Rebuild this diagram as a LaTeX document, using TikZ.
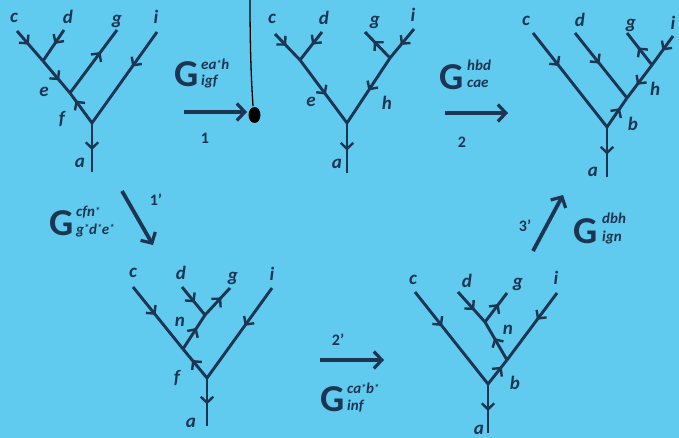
\documentclass[tikz,border=0pt]{standalone}
\usepackage{fontspec}
\setmainfont{Carlito}
\usetikzlibrary{arrows.meta,decorations.markings}
\definecolor{bg}{RGB}{96,203,238}
\definecolor{ink}{RGB}{28,53,82}
\newcommand{\st}{\raisebox{2pt}{\fontsize{10}{10}\selectfont *}}
\tikzset{
  edge/.style={draw=ink,line width=2.9pt},
  marr/.style={postaction={decorate,decoration={markings,mark=at position #1 with {\arrow{Straight Barb[length=6pt,width=12.5pt,line width=2.4pt]}}}}},
  marr/.default=0.5,
  lbl/.style={text=ink,font=\fontsize{19}{19}\selectfont\bfseries\itshape,inner sep=0pt},
  gsym/.style={text=ink,font=\fontsize{38}{38}\selectfont\bfseries,inner sep=0pt,anchor=base west},
  gscr/.style={text=ink,font=\fontsize{15}{15}\selectfont\bfseries\itshape,inner sep=0pt,anchor=base west},
  num/.style={text=ink,font=\fontsize{16}{16}\selectfont\bfseries,inner sep=0pt},
  trans/.style={draw=ink,line width=3.8pt,-{Straight Barb[length=8pt,width=17pt,line width=3.2pt]}}
}
\begin{document}
\begin{tikzpicture}[x=1pt,y=-1pt]
\fill[bg] (0,0) rectangle (679,438);
\useasboundingbox (0,0) rectangle (679,438);

% microphone cable (photo artefact)
\coordinate (mtop) at (250,0);
\coordinate (mbot) at (253,106);
\draw[black,line width=1.3pt] (mtop) .. controls (250,60) and (252,90) .. (mbot);
\fill[black] (254.5,115) ellipse [x radius=6pt,y radius=8pt];

% ---------- Tree 1 ----------
\coordinate (C1) at (17,31); \coordinate (D1) at (64,30);
\coordinate (J1) at (43,61); \coordinate (K1) at (70,93);
\coordinate (G1) at (117,30); \coordinate (I1) at (157,32);
\coordinate (R1) at (92,123); \coordinate (A1) at (92,172);
\draw[edge,marr=0.45] (C1) -- (J1);
\draw[edge,marr=0.45] (D1) -- (J1);
\draw[edge,marr=0.6] (J1) -- (K1);
\draw[edge,marr=0.65] (K1) -- (G1);
\draw[edge,marr=0.38] (I1) -- (R1);
\draw[edge,marr=0.75] (R1) -- (K1);
\draw[edge,marr=0.55] (R1) -- (A1);
\node[lbl] (l1c) at (14,18) {c};
\node[lbl] (l1d) at (68,17) {d};
\node[lbl] (l1g) at (117,21) {g};
\node[lbl] (l1i) at (156,17) {i};
\node[lbl] (l1e) at (44,92) {e};
\node[lbl] (l1f) at (62,119) {f};
\node[lbl] (l1a) at (80,163) {a};

% ---------- Tree 2 ----------
\coordinate (C2) at (275,34); \coordinate (D2) at (322,32);
\coordinate (J2) at (300,60); \coordinate (R2) at (347,123);
\coordinate (A2) at (347,173); \coordinate (G2) at (365,32);
\coordinate (I2) at (414,29); \coordinate (K2) at (390,58);
\draw[edge,marr=0.45] (C2) -- (J2);
\draw[edge,marr=0.45] (D2) -- (J2);
\draw[edge,marr=0.55] (J2) -- (R2);
\draw[edge,marr=0.65] (K2) -- (G2);
\draw[edge,marr=0.55] (I2) -- (K2);
\draw[edge,marr=0.5] (K2) -- (R2);
\draw[edge,marr=0.55] (R2) -- (A2);
\node[lbl] (l2c) at (272,19) {c};
\node[lbl] (l2d) at (324,18) {d};
\node[lbl] (l2g) at (375,22) {g};
\node[lbl] (l2i) at (413,15) {i};
\node[lbl] (l2e) at (311,102) {e};
\node[lbl] (l2h) at (387,103) {h};
\node[lbl] (l2a) at (337,164) {a};

% ---------- Tree 3 ----------
\coordinate (C3) at (533,33); \coordinate (D3) at (575,33);
\coordinate (G3) at (627,33); \coordinate (I3) at (673,36);
\coordinate (K3) at (652,65); \coordinate (J3) at (627,98);
\coordinate (R3) at (607,127); \coordinate (A3) at (607,177);
\draw[edge,marr=0.35] (C3) -- (R3);
\draw[edge,marr=0.47] (D3) -- (J3);
\draw[edge,marr=0.55] (K3) -- (G3);
\draw[edge,marr=0.5] (I3) -- (K3);
\draw[edge,marr=0.6] (K3) -- (J3);
\draw[edge,marr=0.65] (R3) -- (J3);
\draw[edge,marr=0.55] (R3) -- (A3);
\node[lbl] (l3c) at (526,21) {c};
\node[lbl] (l3d) at (580,20) {d};
\node[lbl] (l3g) at (631,25) {g};
\node[lbl] (l3i) at (673,23) {i};
\node[lbl] (l3h) at (655,89) {h};
\node[lbl] (l3b) at (633,124) {b};
\node[lbl] (l3a) at (593,172) {a};

% ---------- Tree 4 ----------
\coordinate (C4) at (133,287); \coordinate (D4) at (182,287);
\coordinate (G4) at (230,288); \coordinate (I4) at (272,288);
\coordinate (P4) at (205,315); \coordinate (N4) at (183,349);
\coordinate (R4) at (207,378); \coordinate (A4) at (207,426);
\draw[edge,marr=0.45] (C4) -- (N4);
\draw[edge,marr=0.62] (R4) -- (N4);
\draw[edge,marr=0.62] (N4) -- (P4);
\draw[edge,marr=0.55] (D4) -- (P4);
\draw[edge,marr=0.65] (P4) -- (G4);
\draw[edge,marr=0.42] (I4) -- (R4);
\draw[edge,marr=0.55] (R4) -- (A4);
\node[lbl] (l4c) at (133,273) {c};
\node[lbl] (l4d) at (181,273) {d};
\node[lbl] (l4g) at (233,278) {g};
\node[lbl] (l4i) at (272,274) {i};
\node[lbl] (l4n) at (180,322) {n};
\node[lbl] (l4f) at (177,378) {f};
\node[lbl] (l4a) at (191,423) {a};

% ---------- Tree 5 ----------
\coordinate (C5) at (415,292); \coordinate (D5) at (458,292);
\coordinate (G5) at (507,293); \coordinate (I5) at (557,293);
\coordinate (P5) at (485,322); \coordinate (N5) at (507,360);
\coordinate (R5) at (488,384); \coordinate (A5) at (488,433);
\draw[edge,marr=0.37] (C5) -- (R5);
\draw[edge,marr=0.6] (D5) -- (P5);
\draw[edge,marr=0.62] (P5) -- (G5);
\draw[edge,marr=0.58] (N5) -- (P5);
\draw[edge,marr=0.4] (I5) -- (N5);
\draw[edge,marr=0.72] (R5) -- (N5);
\draw[edge,marr=0.55] (R5) -- (A5);
\node[lbl] (l5c) at (413,280) {c};
\node[lbl] (l5d) at (467,281) {d};
\node[lbl] (l5g) at (518,284) {g};
\node[lbl] (l5i) at (556,278) {i};
\node[lbl] (l5n) at (508,330) {n};
\node[lbl] (l5b) at (515,383) {b};
\node[lbl] (l5a) at (479,430) {a};

% ---------- Transition 1 ----------
\coordinate (T1s) at (184,112); \coordinate (T1e) at (247,112);
\draw[trans] (T1s) -- (T1e);
\node[num] (n1) at (205,138) {1};
\node[gsym] (g1) at (174,87) {G};
\node[gscr] (g1u) at (201,70) {ea\st h};
\node[gscr] (g1d) at (201,86) {igf};

% ---------- Transition 2 ----------
\coordinate (T2s) at (445,113); \coordinate (T2e) at (508,113);
\draw[trans] (T2s) -- (T2e);
\node[num] (n2) at (462,142) {2};
\node[gsym] (g2) at (439,90) {G};
\node[gscr] (g2u) at (467,71) {hbd};
\node[gscr] (g2d) at (467,88) {cae};

% ---------- Transition 1' ----------
\coordinate (T3s) at (122,191); \coordinate (T3e) at (153,245);
\draw[trans] (T3s) -- (T3e);
\node[num] (n3) at (156,200) {1’};
\node[gsym] (g3) at (49,236) {G};
\node[gscr] (g3u) at (76,217) {cfn\st};
\node[gscr] (g3d) at (76,234) {g\st d\st e\st};

% ---------- Transition 2' ----------
\coordinate (T4s) at (320,360); \coordinate (T4e) at (384,360);
\draw[trans] (T4s) -- (T4e);
\node[num] (n4) at (338,340) {2’};
\node[gsym] (g4) at (320,411) {G};
\node[gscr] (g4u) at (347,393) {ca\st b\st};
\node[gscr] (g4d) at (347,410) {inf};

% ---------- Transition 3' ----------
\coordinate (T5s) at (533,251); \coordinate (T5e) at (563,195);
\draw[trans] (T5s) -- (T5e);
\node[num] (n5) at (525,226) {3’};
\node[gsym] (g5) at (573,243) {G};
\node[gscr] (g5u) at (602,224) {dbh};
\node[gscr] (g5d) at (602,241) {ign};
\end{tikzpicture}
\end{document}
